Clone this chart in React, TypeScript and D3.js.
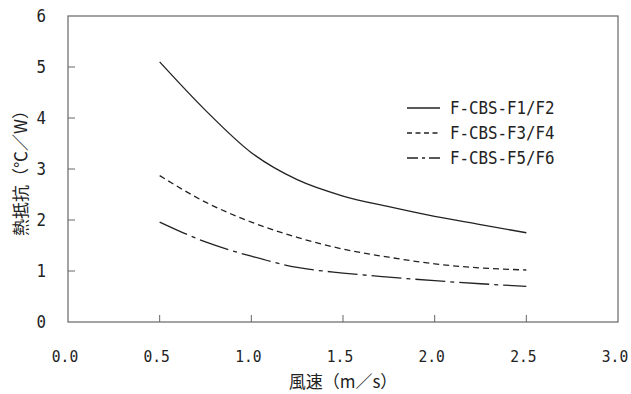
import React from "react";
import * as d3 from "d3";

// wind speed (m/s) vs thermal resistance (°C/W)
const speeds = [0.5, 0.75, 1.0, 1.25, 1.5, 1.75, 2.0, 2.25, 2.5];
const seriesF1F2 = [5.1, 4.15, 3.32, 2.79, 2.47, 2.26, 2.07, 1.91, 1.75];
const seriesF3F4 = [2.87, 2.35, 1.96, 1.66, 1.43, 1.27, 1.14, 1.06, 1.02];
const seriesF5F6 = [1.96, 1.57, 1.29, 1.07, 0.96, 0.88, 0.81, 0.75, 0.7];

const seriesNames = ["F-CBS-F1/F2", "F-CBS-F3/F4", "F-CBS-F5/F6"];
const xTicks = [0, 0.5, 1.0, 1.5, 2.0, 2.5, 3.0];
const yTicks = [0, 1, 2, 3, 4, 5, 6];

const W = 631;
const H = 394;
const m = { left: 68, right: 13, top: 16, bottom: 72 };

const jp = "'Noto Sans CJK JP', sans-serif";
const mono = "'DejaVu Sans Mono', monospace";
const CH = 9.5; // width of one half-width character

const App = () => {
  const x = d3.scaleLinear().domain([0, 3]).range([m.left, W - m.right]);
  const y = d3.scaleLinear().domain([0, 6]).range([H - m.bottom, m.top]);

  const line = d3
    .line<number>()
    .x((d, i) => x(speeds[i]))
    .y((d) => y(d))
    .curve(d3.curveMonotoneX);

  const all = [seriesF1F2, seriesF3F4, seriesF5F6];
  const dashes = ["none", "6,4", "30,5,4,5"];
  const legendDashes = ["none", "5,3.5", "11,4,3,4"];

  const x0 = m.left;
  const x1 = W - m.right;
  const y0 = H - m.bottom;
  const y1 = m.top;

  return (
    <div style={{ position: "absolute", left: 0, top: 0 }}>
      <svg width={W} height={H} style={{ display: "block", background: "#fff" }}>
        {/* frame */}
        <rect x={x0} y={y1} width={x1 - x0} height={y0 - y1} fill="none" stroke="#666" strokeWidth={1.2} />

        {/* inward ticks */}
        {xTicks.slice(1, -1).map((t) => (
          <line key={`xt${t}`} x1={x(t)} x2={x(t)} y1={y0} y2={y0 - 7} stroke="#666" strokeWidth={1} />
        ))}
        {yTicks.slice(1, -1).map((t) => (
          <line key={`yt${t}`} x1={x0} x2={x0 + 7} y1={y(t)} y2={y(t)} stroke="#666" strokeWidth={1} />
        ))}

        {/* tick labels */}
        {xTicks.map((t) => (
          <text
            key={`xl${t}`}
            x={x(t) - 3}
            y={362}
            textAnchor="middle"
            fontFamily={mono}
            fontSize={16.5}
            textLength={8.8 * 3}
            lengthAdjust="spacingAndGlyphs"
            fill="#222"
          >
            {t.toFixed(1)}
          </text>
        ))}
        {yTicks.map((t) => (
          <text
            key={`yl${t}`}
            x={46}
            y={y(t)}
            dy="0.36em"
            textAnchor="end"
            fontFamily={mono}
            fontSize={18}
            textLength={CH}
            lengthAdjust="spacingAndGlyphs"
            fill="#222"
          >
            {t}
          </text>
        ))}

        {/* axis titles */}
        <text x={(x0 + x1) / 2} y={388} textAnchor="middle" fontFamily={jp} fontSize={17} fill="#222">
          風速（m／s）
        </text>
        <text
          transform={`translate(27, ${(y0 + y1) / 2}) rotate(-90)`}
          textAnchor="middle"
          fontFamily={jp}
          fontSize={17}
          fill="#222"
        >
          熱抵抗（℃／W）
        </text>

        {/* curves */}
        {all.map((s, i) => (
          <path key={`s${i}`} d={line(s) || ""} fill="none" stroke="#222" strokeWidth={1.3} strokeDasharray={dashes[i]} />
        ))}

        {/* legend */}
        {seriesNames.map((name, i) => {
          const ly = 108 + i * 25;
          return (
            <g key={name}>
              <line x1={407} x2={440} y1={ly} y2={ly} stroke="#222" strokeWidth={1.3} strokeDasharray={legendDashes[i]} />
              <text
                x={450}
                y={ly}
                dy="0.36em"
                fontFamily={mono}
                fontSize={18}
                textLength={CH * name.length}
                lengthAdjust="spacingAndGlyphs"
                fill="#222"
              >
                {name}
              </text>
            </g>
          );
        })}
      </svg>
    </div>
  );
};

export default App;
